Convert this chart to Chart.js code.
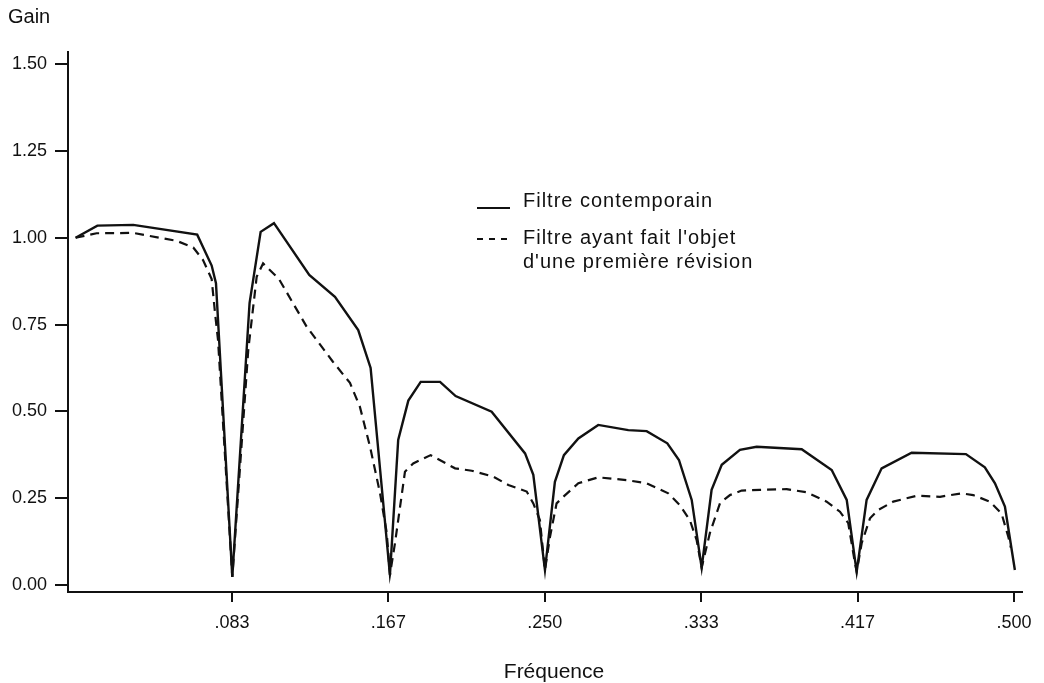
<!DOCTYPE html>
<html>
<head>
<meta charset="utf-8">
<script src="https://cdn.jsdelivr.net/npm/chart.js@4.4.1/dist/chart.umd.min.js"></script>
<style>
  html, body { margin: 0; padding: 0; background: #fff; }
  #wrap { width: 1044px; height: 683px; }
</style>
</head>
<body>
<div id="wrap"><canvas id="c" width="1044" height="683"></canvas></div>
<script>
// ---- Data ----
const freqSolid = [0, 0.0116, 0.0307, 0.0648, 0.0725, 0.0748, 0.0835, 0.0927, 0.0986, 0.1057,
  0.1245, 0.1382, 0.1506, 0.1572, 0.1675, 0.1719, 0.1773, 0.1839, 0.1942, 0.2025,
  0.2217, 0.2395, 0.2439, 0.2501, 0.2554, 0.2602, 0.2679, 0.2785, 0.2945, 0.3043,
  0.3153, 0.3215, 0.3283, 0.3336, 0.3389, 0.3443, 0.3540, 0.3629, 0.3869, 0.4029,
  0.4109, 0.4162, 0.4215, 0.4295, 0.4455, 0.4744, 0.4845, 0.4899, 0.4952, 0.5005];
const gainSolid = [1.000, 1.035, 1.037, 1.009, 0.920, 0.869, 0.023, 0.812, 1.017, 1.042,
  0.893, 0.830, 0.734, 0.625, 0.029, 0.418, 0.531, 0.585, 0.585, 0.544,
  0.499, 0.379, 0.317, 0.043, 0.297, 0.374, 0.422, 0.461, 0.446, 0.443,
  0.408, 0.360, 0.245, 0.050, 0.274, 0.346, 0.389, 0.398, 0.391, 0.331,
  0.245, 0.038, 0.245, 0.336, 0.381, 0.377, 0.339, 0.293, 0.226, 0.043];

const freqDashed = [0, 0.0112, 0.0306, 0.0539, 0.0627, 0.0679, 0.0725, 0.0743, 0.0759, 0.0835,
  0.0920, 0.0965, 0.0999, 0.1084, 0.1231, 0.1371, 0.1462, 0.1515, 0.1569, 0.1622,
  0.1658, 0.1675, 0.1702, 0.1755, 0.1799, 0.1892, 0.2022, 0.2111, 0.2226, 0.2306,
  0.2404, 0.2439, 0.2474, 0.2501, 0.2528, 0.2563, 0.2599, 0.2679, 0.2785, 0.2936,
  0.3043, 0.3158, 0.3220, 0.3273, 0.3309, 0.3336, 0.3380, 0.3434, 0.3487, 0.3549,
  0.3646, 0.3789, 0.3895, 0.4002, 0.4073, 0.4117, 0.4153, 0.4162, 0.4189, 0.4233,
  0.4277, 0.4357, 0.4482, 0.4606, 0.4721, 0.4783, 0.4872, 0.4934, 0.4970, 0.4984];
const gainDashed = [1.000, 1.013, 1.014, 0.991, 0.972, 0.936, 0.881, 0.783, 0.705, 0.023,
  0.677, 0.888, 0.926, 0.881, 0.744, 0.643, 0.582, 0.513, 0.398, 0.265,
  0.150, 0.029, 0.121, 0.326, 0.350, 0.374, 0.336, 0.329, 0.312, 0.288,
  0.269, 0.235, 0.187, 0.043, 0.139, 0.235, 0.254, 0.293, 0.310, 0.302,
  0.293, 0.264, 0.230, 0.187, 0.130, 0.050, 0.150, 0.236, 0.259, 0.272,
  0.274, 0.276, 0.267, 0.240, 0.211, 0.178, 0.063, 0.038, 0.121, 0.192,
  0.216, 0.240, 0.257, 0.254, 0.264, 0.259, 0.240, 0.206, 0.139, 0.107];

const xTickValues = [1/12, 2/12, 3/12, 4/12, 5/12, 6/12];
const xTickLabels = ['.083', '.167', '.250', '.333', '.417', '.500'];
const yTickValues = [0, 0.25, 0.5, 0.75, 1.0, 1.25, 1.5];
const yTickLabels = ['0.00', '0.25', '0.50', '0.75', '1.00', '1.25', '1.50'];

const seriesNames = ['Filtre contemporain', "Filtre ayant fait l'objet", "d'une première révision"];
const yAxisTitle = 'Gain';
const xAxisTitle = 'Fréquence';

// ---- Chart ----
const FONT = '"Liberation Sans", Arial, Helvetica, sans-serif';
const INK = '#111';

const annotations = {
  id: 'annotations',
  afterDraw(chart) {
    const ctx = chart.ctx;
    ctx.save();
    ctx.fillStyle = INK;
    ctx.strokeStyle = INK;
    ctx.textBaseline = 'alphabetic';
    // axis titles
    ctx.font = '20px ' + FONT;
    ctx.textAlign = 'left';
    ctx.fillText(yAxisTitle, 8, 23);
    ctx.font = '21px ' + FONT;
    ctx.textAlign = 'center';
    ctx.fillText(xAxisTitle, 554, 678);
    // legend
    ctx.font = '20px ' + FONT;
    ctx.textAlign = 'left';
    if ('letterSpacing' in ctx) ctx.letterSpacing = '1px';
    ctx.lineWidth = 2;
    ctx.beginPath();
    ctx.moveTo(477, 208); ctx.lineTo(510, 208);
    ctx.stroke();
    ctx.fillText(seriesNames[0], 523, 207);
    ctx.setLineDash([6, 6]);
    ctx.beginPath();
    ctx.moveTo(477, 239); ctx.lineTo(510, 239);
    ctx.stroke();
    ctx.setLineDash([]);
    ctx.fillText(seriesNames[1], 523, 244);
    ctx.fillText(seriesNames[2], 523, 268);
    if ('letterSpacing' in ctx) ctx.letterSpacing = '0px';
    ctx.restore();
  }
};

new Chart(document.getElementById('c'), {
  type: 'line',
  data: {
    datasets: [
      {
        label: seriesNames[0],
        data: freqSolid.map((f, i) => ({ x: f, y: gainSolid[i] })),
        borderColor: INK,
        borderWidth: 2.4,
        pointRadius: 0,
        tension: 0,
        fill: false
      },
      {
        label: seriesNames[1] + ' ' + seriesNames[2],
        data: freqDashed.map((f, i) => ({ x: f, y: gainDashed[i] })),
        borderColor: INK,
        borderWidth: 2.2,
        borderDash: [9, 6],
        pointRadius: 0,
        tension: 0,
        fill: false
      }
    ]
  },
  options: {
    responsive: false,
    animation: false,
    devicePixelRatio: 1,
    layout: { padding: { left: 0, top: 52, right: 22, bottom: 0 } },
    plugins: {
      legend: { display: false },
      tooltip: { enabled: false },
      title: { display: false }
    },
    scales: {
      x: {
        type: 'linear',
        min: -0.00405,
        max: 0.5043,
        afterBuildTicks: s => { s.ticks = xTickValues.map(v => ({ value: v })); },
        afterFit: s => { s.height = 91; },
        ticks: {
          autoSkip: false,
          maxRotation: 0,
          padding: 10,
          color: INK,
          font: { family: FONT, size: 18 },
          callback: (v, i) => xTickLabels[i]
        },
        grid: { drawOnChartArea: false, drawTicks: true, tickLength: 10, color: INK, lineWidth: 2 },
        border: { display: true, color: INK, width: 2 }
      },
      y: {
        type: 'linear',
        min: -0.0202,
        max: 1.535,
        afterBuildTicks: s => { s.ticks = yTickValues.map(v => ({ value: v })); },
        afterFit: s => { s.width = 68; },
        ticks: {
          autoSkip: false,
          padding: 8,
          color: INK,
          font: { family: FONT, size: 18 },
          callback: (v, i) => yTickLabels[i]
        },
        grid: { drawOnChartArea: false, drawTicks: true, tickLength: 13, color: INK, lineWidth: 2 },
        border: { display: true, color: INK, width: 2 }
      }
    }
  },
  plugins: [annotations]
});
</script>
</body>
</html>
